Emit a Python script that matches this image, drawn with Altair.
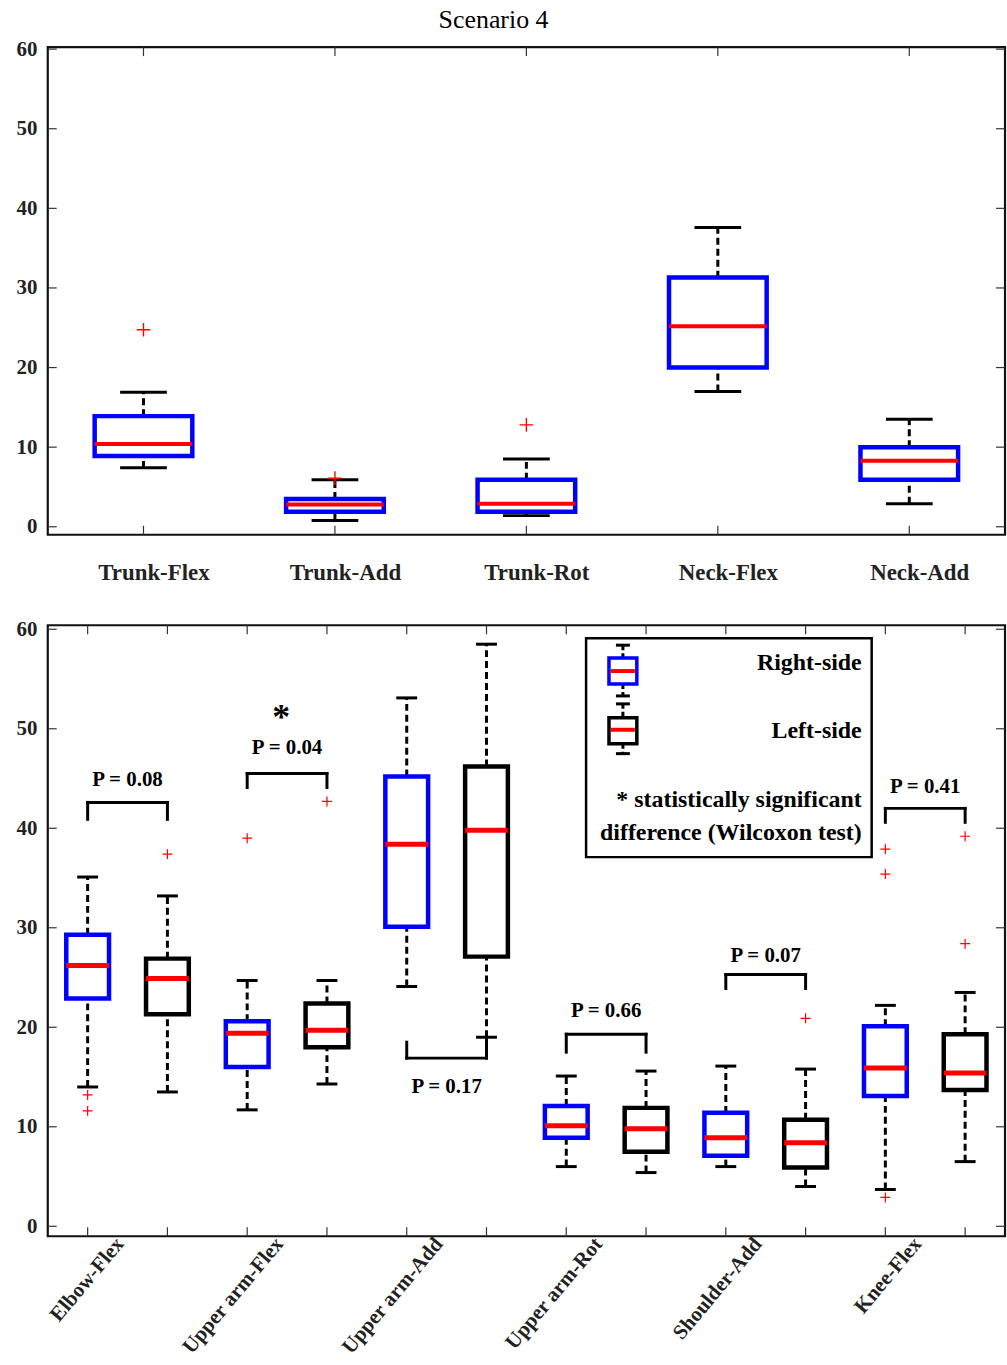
import json
import altair as alt
import pandas as pd

# ---------------- data: top panel (trunk & neck) ----------------
top_joints = ["Trunk-Flex", "Trunk-Add", "Trunk-Rot", "Neck-Flex", "Neck-Add"]
top_wlo = [7.4, 0.8, 1.4, 17.0, 2.9]
top_q1 = [8.9, 1.9, 1.9, 20.0, 5.9]
top_med = [10.4, 2.8, 2.9, 25.2, 8.3]
top_q3 = [13.9, 3.5, 5.9, 31.3, 10.0]
top_whi = [16.9, 5.9, 8.5, 37.6, 13.5]
top_out_joint = [1, 2, 3]
top_out_val = [24.75, 6.1, 12.8]

# ---------------- data: bottom panel (right / left side) ----------------
bot_joints = ["Elbow-Flex", "Upper arm-Flex", "Upper arm-Add",
              "Upper arm-Rot", "Shoulder-Add", "Knee-Flex"]
bot_sides = ["R", "L"]
# order: joint1 R, joint1 L, joint2 R, ...
bot_wlo = [14.0, 13.5, 11.7, 14.3, 24.1, 19.0, 6.0, 5.4, 6.0, 4.0, 3.7, 6.5]
bot_q1 = [22.9, 21.3, 16.0, 18.0, 30.1, 27.1, 8.9, 7.5, 7.1, 5.9, 13.1, 13.7]
bot_med = [26.2, 24.9, 19.4, 19.7, 38.4, 39.8, 10.1, 9.8, 8.9, 8.4, 15.9, 15.4]
bot_q3 = [29.3, 26.9, 20.6, 22.4, 45.2, 46.2, 12.1, 11.9, 11.4, 10.7, 20.1, 19.3]
bot_whi = [35.1, 33.2, 24.7, 24.7, 53.1, 58.5, 15.1, 15.6, 16.1, 15.8, 22.2, 23.5]
bot_out_box = [1, 1, 2, 3, 4, 10, 11, 11, 11, 12, 12]
bot_out_val = [13.2, 11.6, 37.4, 39.0, 42.7, 20.9, 2.9, 37.9, 35.4, 39.2, 28.4]

# p-value brackets
p_joint = [0, 1, 2, 3, 4, 5]
p_label = ["P = 0.08", "P = 0.04", "P = 0.17", "P = 0.66", "P = 0.07", "P = 0.41"]
p_bar_y = [42.6, 45.5, 16.9, 19.3, 25.3, 42.0]
p_leg_l = [40.9, 44.1, 18.5, 17.5, 23.9, 40.6]
p_leg_r = [40.9, 44.1, 19.0, 17.5, 23.9, 40.6]
p_text_y = [44.8, 48.1, 14.0, 21.6, 27.2, 44.1]
star_joint = 1
star_y = 51.5

y_ticks = [0, 10, 20, 30, 40, 50, 60]

# ---------------- styles ----------------
FONT = "Liberation Serif"
BLUE, RED, BLACK = "#0000ff", "#ff0000", "#000000"
PLUS = "M-1,0L1,0M0,-1L0,1"

TOP_W, TOP_H = 962, 490
BOT_W, BOT_H = 962, 614
TOP_XS = alt.Scale(domain=[0.5, 5.5], nice=False, zero=False)
BOT_XS = alt.Scale(domain=[0.5, 12.5], nice=False, zero=False)
TOP_YS = alt.Scale(domain=[-1, 60.25], nice=False, zero=False)
BOT_YS = alt.Scale(domain=[-1, 60.4], nice=False, zero=False)
SIDE_SCALE = alt.Scale(domain=["R", "L"], range=[BLUE, BLACK])

YAX = alt.Axis(values=y_ticks, labelFont=FONT, labelFontWeight="bold", labelFontSize=21,
               labelColor="#222", labelPadding=11, ticks=False, tickSize=0, domain=False,
               grid=False, title=None)
TOP_XAX = alt.Axis(values=[1, 2, 3, 4, 5],
                   labelExpr=f"{json.dumps(top_joints)}[round(datum.value)-1]",
                   labelFont=FONT, labelFontWeight="bold", labelFontSize=23, labelColor="#222",
                   labelPadding=27, labelOffset=10, ticks=False, tickSize=0, domain=False,
                   grid=False, title=None)
BOT_XAX = alt.Axis(values=[1.5 + 2 * i for i in range(len(bot_joints))],
                   labelExpr=f"{json.dumps(bot_joints)}[floor(datum.value/2)]",
                   labelFont=FONT, labelFontWeight="bold", labelFontSize=21, labelColor="#222",
                   labelAngle=310, labelAlign="right", labelBaseline="middle",
                   labelPadding=4, labelOffset=-8, ticks=False, tickSize=0, domain=False,
                   grid=False, title=None)


def mk(xs, ys, xax):
    X = lambda f: alt.X(f, scale=xs, axis=xax)
    Y = lambda f: alt.Y(f, scale=ys, axis=YAX)
    return X, Y


def box_layers(df, X, Y, box_sw, med_sw):
    base = alt.Chart(df)
    dash = dict(color=BLACK, strokeWidth=3, strokeDash=[7, 4])
    return [
        base.mark_rule(**dash).encode(x=X("pos:Q"), y=Y("q3:Q"), y2="whi:Q"),
        base.mark_rule(**dash).encode(x=X("pos:Q"), y=Y("wlo:Q"), y2="q1:Q"),
        base.mark_rule(color=BLACK, strokeWidth=3).encode(x=X("clo:Q"), x2="chi:Q", y=Y("whi:Q")),
        base.mark_rule(color=BLACK, strokeWidth=3).encode(x=X("clo:Q"), x2="chi:Q", y=Y("wlo:Q")),
        base.mark_rect(filled=False, strokeWidth=box_sw).encode(
            x=X("lo:Q"), x2="hi:Q", y=Y("q1:Q"), y2="q3:Q",
            stroke=alt.Stroke("side:N", scale=SIDE_SCALE, legend=None)),
        base.mark_rule(color=RED, strokeWidth=med_sw).encode(x=X("lo:Q"), x2="hi:Q", y=Y("med:Q")),
    ]


def tick_layers(n, W, H, X, Y):
    L = 9
    ydf = pd.DataFrame({"v": y_ticks})
    xdf = pd.DataFrame({"p": list(range(1, n + 1))})
    ty = alt.Chart(ydf).mark_rule(color="#333", strokeWidth=1.2)
    tx = alt.Chart(xdf).mark_rule(color="#333", strokeWidth=1.2)
    return [
        ty.encode(x=alt.value(0), x2=alt.value(L), y=Y("v:Q")),
        ty.encode(x=alt.value(W - L), x2=alt.value(W), y=Y("v:Q")),
        tx.encode(x=X("p:Q"), y=alt.value(0), y2=alt.value(L)),
        tx.encode(x=X("p:Q"), y=alt.value(H - L), y2=alt.value(H)),
    ]


# ---------------- top panel ----------------
TX, TY = mk(TOP_XS, TOP_YS, TOP_XAX)
top_df = pd.DataFrame({"joint": top_joints, "pos": list(range(1, 6)), "side": "R",
                       "wlo": top_wlo, "q1": top_q1, "med": top_med, "q3": top_q3, "whi": top_whi})
top_df["lo"] = top_df["pos"] - 0.255
top_df["hi"] = top_df["pos"] + 0.255
top_df["clo"] = top_df["pos"] - 0.122
top_df["chi"] = top_df["pos"] + 0.122

top_out = pd.DataFrame({"pos": top_out_joint, "v": top_out_val})
top_pts = alt.Chart(top_out).mark_point(shape=PLUS, filled=False, color=RED, strokeWidth=1.4,
                                        size=190, opacity=1).encode(x=TX("pos:Q"), y=TY("v:Q"))

top = alt.layer(
    *tick_layers(5, TOP_W, TOP_H, TX, TY),
    *box_layers(top_df, TX, TY, 4.5, 4),
    top_pts,
).properties(
    width=TOP_W, height=TOP_H,
    title=alt.TitleParams("Scenario 4", font=FONT, fontSize=26, fontWeight="normal",
                          color=BLACK, anchor="middle", frame="group", dx=-33, offset=5),
)

# ---------------- bottom panel ----------------
BX, BY = mk(BOT_XS, BOT_YS, BOT_XAX)
n_b = len(bot_wlo)
bot_df = pd.DataFrame({"pos": list(range(1, n_b + 1)),
                       "side": [bot_sides[i % 2] for i in range(n_b)],
                       "wlo": bot_wlo, "q1": bot_q1, "med": bot_med, "q3": bot_q3, "whi": bot_whi})
bot_df["lo"] = bot_df["pos"] - 0.268
bot_df["hi"] = bot_df["pos"] + 0.268
bot_df["clo"] = bot_df["pos"] - 0.131
bot_df["chi"] = bot_df["pos"] + 0.131

bot_out = pd.DataFrame({"pos": bot_out_box, "v": bot_out_val})
bot_pts = alt.Chart(bot_out).mark_point(shape=PLUS, filled=False, color=RED, strokeWidth=1.2,
                                        size=100, opacity=1).encode(x=BX("pos:Q"), y=BY("v:Q"))

br = pd.DataFrame({
    "x1": [2 * j + 1 for j in p_joint], "x2": [2 * j + 2 for j in p_joint],
    "xt": [2 * j + 1.5 for j in p_joint],
    "ybar": p_bar_y, "yl": p_leg_l, "yr": p_leg_r, "yt": p_text_y, "label": p_label,
})
brb = alt.Chart(br)
brk = dict(color=BLACK, strokeWidth=3, strokeCap="square")
bracket_layers = [
    brb.mark_rule(**brk).encode(x=BX("x1:Q"), x2="x2:Q", y=BY("ybar:Q")),
    brb.mark_rule(**brk).encode(x=BX("x1:Q"), y=BY("ybar:Q"), y2="yl:Q"),
    brb.mark_rule(**brk).encode(x=BX("x2:Q"), y=BY("ybar:Q"), y2="yr:Q"),
    brb.mark_text(font=FONT, fontWeight="bold", fontSize=21, color=BLACK, baseline="middle").encode(
        x=BX("xt:Q"), y=BY("yt:Q"), text="label:N"),
]
star_df = pd.DataFrame({"x": [2 * star_joint + 1.5], "y": [star_y], "t": ["*"]})
star = alt.Chart(star_df).mark_text(font=FONT, fontWeight="bold", fontSize=36, color=BLACK,
                                    baseline="middle", dx=-6, dy=4).encode(
    x=BX("x:Q"), y=BY("y:Q"), text="t:N")

# ---------------- manual legend (pixel layout inside bottom panel) ----------------
one = pd.DataFrame({"k": [0]})


def prule(x1, y1, x2, y2, **kw):
    return alt.Chart(one).mark_rule(**kw).encode(
        x=alt.value(x1), x2=alt.value(x2), y=alt.value(y1), y2=alt.value(y2))


def icon(cx, cap_t, box_t, med, box_b, cap_b, col):
    return [
        prule(cx, cap_t, cx, box_t, color=BLACK, strokeWidth=3, strokeDash=[5, 3]),
        prule(cx, box_b, cx, cap_b, color=BLACK, strokeWidth=3, strokeDash=[5, 3]),
        prule(cx - 7, cap_t, cx + 7, cap_t, color=BLACK, strokeWidth=3),
        prule(cx - 7, cap_b, cx + 7, cap_b, color=BLACK, strokeWidth=3),
        alt.Chart(one).mark_rect(filled=False, stroke=col, strokeWidth=3.5).encode(
            x=alt.value(cx - 14), x2=alt.value(cx + 14), y=alt.value(box_t), y2=alt.value(box_b)),
        prule(cx - 12, med, cx + 12, med, color=RED, strokeWidth=4),
    ]


def ptext(x, y, s):
    return alt.Chart(one).mark_text(font=FONT, fontWeight="bold", fontSize=24, color=BLACK,
                                    align="right", baseline="middle").encode(
        x=alt.value(x), y=alt.value(y), text=alt.value(s))


legend_layers = [
    alt.Chart(one).mark_rect(fill="white", stroke=BLACK, strokeWidth=2.5).encode(
        x=alt.value(541), x2=alt.value(828), y=alt.value(13), y2=alt.value(233)),
    *icon(578, 20, 33, 46, 59, 71, BLUE),
    *icon(578, 79, 93, 105, 119, 129, BLACK),
    ptext(818, 38, "Right-side"),
    ptext(818, 106, "Left-side"),
    ptext(818, 176, "* statistically significant"),
    ptext(818, 209, "difference (Wilcoxon test)"),
]

bottom = alt.layer(
    *tick_layers(n_b, BOT_W, BOT_H, BX, BY),
    *bracket_layers,
    star,
    *box_layers(bot_df, BX, BY, 4.5, 5),
    bot_pts,
    *legend_layers,
).properties(width=BOT_W, height=BOT_H)

chart = alt.vconcat(top, bottom, spacing=30).properties(
    padding={"left": 14, "top": 2, "right": 0, "bottom": 0}
).configure_view(stroke="#111", strokeWidth=2.2)

chart.save("out.html", embed_options={"renderer": "svg", "actions": False})
